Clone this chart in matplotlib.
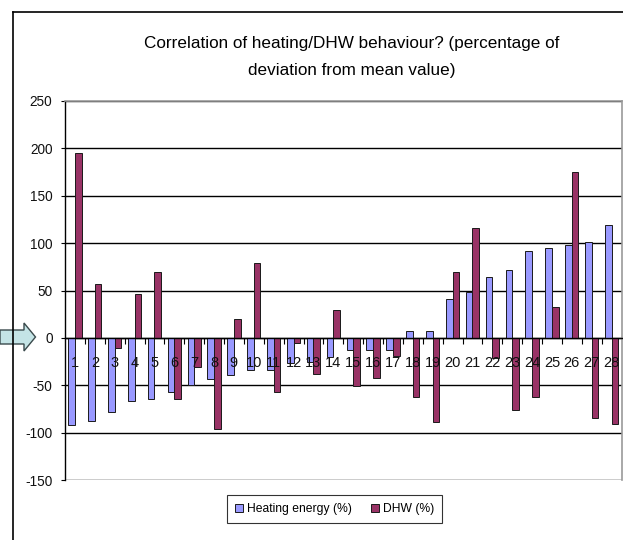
import matplotlib
matplotlib.use("Agg")
import matplotlib.pyplot as plt
import numpy as np
from matplotlib.lines import Line2D
from matplotlib.patches import Polygon

plt.rcParams['font.family'] = ['Liberation Sans', 'DejaVu Sans']

# Data: percentage deviation from mean value per dwelling
categories = list(range(1, 29))
heating = [-92, -88, -78, -67, -64, -57, -50, -43, -39, -34, -34, -26, -25, -20,
           -13, -13, -13, 7, 7, 41, 48, 64, 72, 92, 95, 98, 101, 119]
dhw = [195, 57, -11, 46, 70, -65, -31, -96, 20, 79, -57, -5, -38, 29,
       -51, -42, -19, -62, -89, 70, 116, -21, -76, -62, 33, 175, -85, -91]
y_ticks = [-150, -100, -50, 0, 50, 100, 150, 200, 250]
title = "Correlation of heating/DHW behaviour? (percentage of\ndeviation from mean value)"

W, H = 623, 540
fig = plt.figure(figsize=(W / 100, H / 100), dpi=100)
fig.patch.set_facecolor("white")

def fx(px):
    return px / W

def fy(py):
    return 1 - py / H

left, right, top, bottom = 65, 621.5, 101, 480
ax = fig.add_axes([fx(left), fy(bottom), fx(right - left), fy(top) - fy(bottom)])

x = np.array(categories, dtype=float)
bw = 1 / 3
ax.bar(x - bw / 2, heating, width=bw, color="#9999FF", edgecolor="#1a1a1a",
       linewidth=0.7, label="Heating energy (%)", zorder=2)
ax.bar(x + bw / 2, dhw, width=bw, color="#993366", edgecolor="#1a1a1a",
       linewidth=0.7, label="DHW (%)", zorder=2)

ax.set_xlim(0.5, 28.5)
ax.set_ylim(-150, 250)
ax.set_yticks(y_ticks)
ax.set_yticklabels([str(v) for v in y_ticks])

# horizontal gridlines behind the bars
ax.set_axisbelow(True)
ax.yaxis.grid(True, color="black", linewidth=1.0)
ax.xaxis.set_zorder(5)

# spines: category axis sits on zero, grey border top/right
ax.spines['bottom'].set_position(('data', 0))
ax.spines['bottom'].set_color("black")
ax.spines['bottom'].set_linewidth(1.0)
ax.spines['left'].set_color("black")
ax.spines['left'].set_linewidth(1.0)
ax.spines['top'].set_color("#999999")
ax.spines['right'].set_color("#999999")
ax.spines['top'].set_linewidth(1.2)
ax.spines['right'].set_linewidth(1.2)

# category labels under the zero line, ticks at category boundaries
ax.set_xticks(x)
ax.set_xticklabels([str(c) for c in categories])
ax.tick_params(axis='x', which='major', length=0, pad=13, labelsize=10.5,
               labelcolor="#111111")
ax.set_xticks(np.arange(1.5, 28.5, 1.0), minor=True)
ax.tick_params(axis='x', which='minor', length=4, width=0.8, direction='out',
               color="black")
ax.tick_params(axis='y', length=3, width=0.8, direction='out', pad=6,
               labelsize=9.8, labelcolor="#111111")

# title
fig.text(fx(352), fy(57), title, ha="center", va="center", fontsize=12.3,
         linespacing=2.0, color="black")

# legend
leg = ax.legend(loc="center", bbox_to_anchor=(fx(334.5), fy(509)),
                bbox_transform=fig.transFigure, ncol=2, frameon=True,
                fancybox=False, shadow=False, fontsize=8.7, handlelength=0.7,
                handleheight=0.7, handletextpad=0.3, columnspacing=1.6,
                borderpad=0.65, borderaxespad=0)
leg.get_frame().set_edgecolor("black")
leg.get_frame().set_linewidth(0.8)

# chart frame lines
fig.add_artist(Line2D([fx(12.5), fx(W)], [fy(11.7), fy(11.7)], color="black",
                      linewidth=1.2, transform=fig.transFigure))
fig.add_artist(Line2D([fx(12.5), fx(12.5)], [fy(11.7), fy(H)], color="black",
                      linewidth=1.2, transform=fig.transFigure))

# pointer arrow on the zero line
cy = 337
pts = [(0, cy - 7), (24, cy - 7), (24, cy - 14), (35.5, cy), (24, cy + 14),
       (24, cy + 7), (0, cy + 7)]
arrow = Polygon([(fx(px), fy(py)) for px, py in pts], closed=True,
                facecolor="#c4e4e6", edgecolor="#3a4a4c", linewidth=1.0,
                transform=fig.transFigure)
fig.add_artist(arrow)

fig.savefig("out.png", dpi=100, facecolor="white")
